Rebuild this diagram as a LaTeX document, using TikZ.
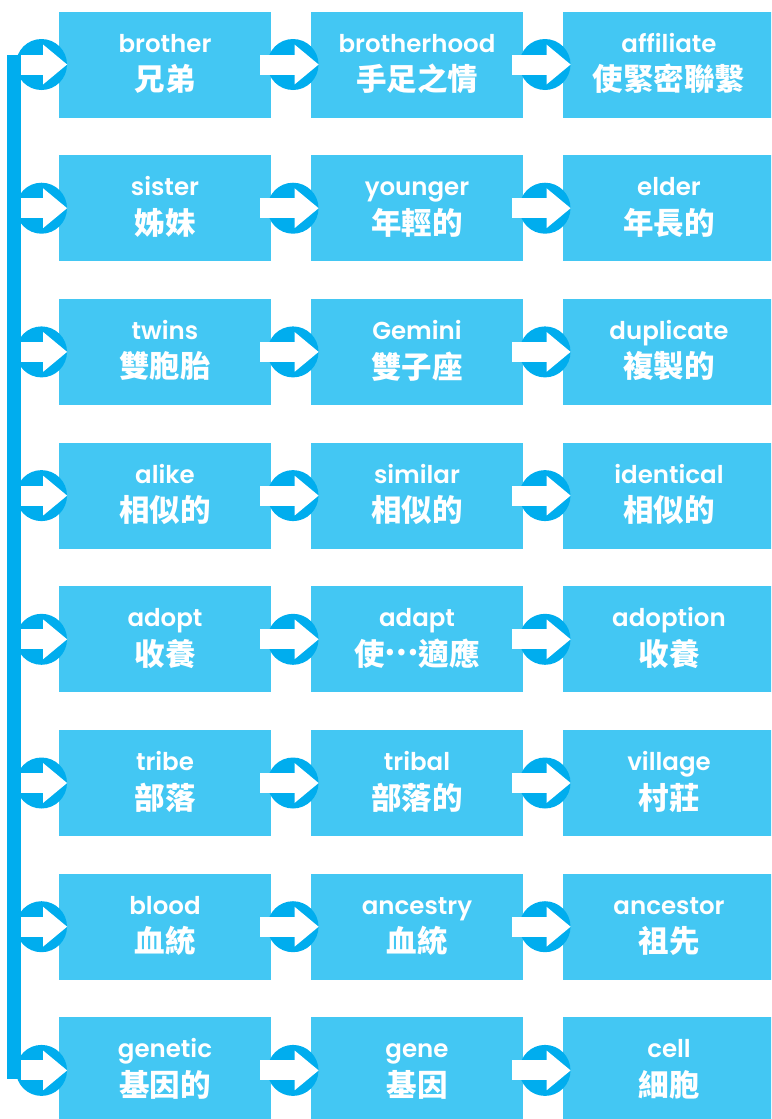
\documentclass[tikz,border=0pt]{standalone}
\usepackage{fontspec}
\setmainfont{Poppins}[BoldFont={Poppins SemiBold}]
\newfontfamily\cjk{Noto Sans CJK TC}
\usetikzlibrary{arrows.meta}
\definecolor{boxblue}{RGB}{67,199,243}
\definecolor{ringblue}{RGB}{0,173,238}
\begin{document}
\begin{tikzpicture}[x=1pt, y=-1pt,
  wordbox/.style={rectangle, fill=boxblue, minimum width=212pt, minimum height=106pt, inner sep=0pt},
  ring/.style={circle, fill=ringblue, minimum size=51pt, inner sep=0pt},
  enword/.style={anchor=base, text=white, inner sep=0pt, font=\fontsize{24.5}{24.5}\selectfont\bfseries},
  zhword/.style={text=white, inner sep=0pt, font=\fontsize{30.5}{30.5}\selectfont\cjk\bfseries},
  flow/.style={white, line width=20pt, -{Triangle[length=24pt, width=38pt]}},
  rail/.style={ringblue, line width=14pt}]
  \useasboundingbox (0,0) rectangle (771,1119);
  \clip (0,0) rectangle (771,1119);
  % three words per row, rows linked by the rail on the left
  \foreach \r/\ea/\za/\eb/\zb/\ec/\zc in {
      0/brother/兄弟/brotherhood/手足之情/affiliate/使緊密聯繫,
      1/sister/姊妹/younger/年輕的/elder/年長的,
      2/twins/雙胞胎/Gemini/雙子座/duplicate/複製的,
      3/alike/相似的/similar/相似的/identical/相似的,
      4/adopt/收養/adapt/{使\raisebox{.32em}[0pt][0pt]{…}適應}/adoption/收養,
      5/tribe/部落/tribal/部落的/village/村莊,
      6/blood/血統/ancestry/血統/ancestor/祖先,
      7/genetic/基因的/gene/基因/cell/細胞}{
    \pgfmathsetmacro\cy{64.5+\r*143.7}
    \node[wordbox] (b\r a) at (165,\cy) {};
    \node[wordbox] (b\r b) at (417,\cy) {};
    \node[wordbox] (b\r c) at (669,\cy) {};
    \node[enword] (e\r a) at (165,\cy-12.5) {\ea};
    \node[enword] (e\r b) at (417,\cy-12.5) {\eb};
    \node[enword] (e\r c) at (669,\cy-12.5) {\ec};
    \node[zhword] (z\r a) at (165,\cy+14.5) {\za};
    \node[zhword] (z\r b) at (417,\cy+14.5) {\zb};
    \node[zhword] (z\r c) at (669,\cy+14.5) {\zc};
    \node[ring] (k\r) at (41.5,\cy) {};
    \node[ring] (k\r a) at (293,\cy) {};
    \node[ring] (k\r b) at (545,\cy) {};
    \coordinate (s\r) at (21,\cy);
    \draw[flow] (s\r) -- (k\r.east);
    \draw[flow] ([xshift=-11pt]b\r a.east) -- (k\r a.east);
    \draw[flow] ([xshift=-11pt]b\r b.east) -- (k\r b.east);
  }
  \draw[rail] ([shift={(-7pt,10pt)}]s0) -- ([shift={(-7pt,-9pt)}]s7);
\end{tikzpicture}
\end{document}
